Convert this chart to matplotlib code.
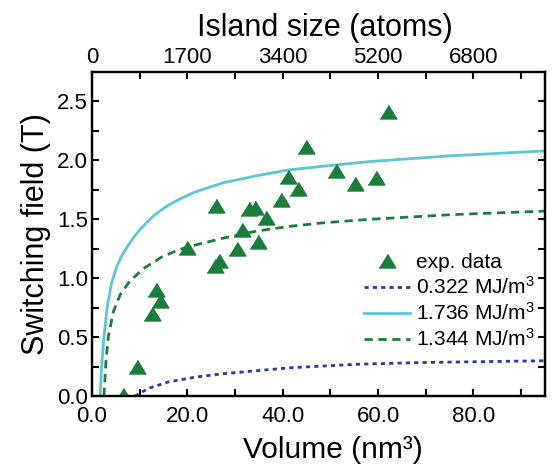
import matplotlib
matplotlib.use("Agg")
import matplotlib.pyplot as plt

plt.rcParams['font.family'] = ['Liberation Sans', 'DejaVu Sans']
plt.rcParams['mathtext.fontset'] = 'custom'
plt.rcParams['mathtext.rm'] = 'Liberation Sans'
plt.rcParams['mathtext.it'] = 'Liberation Sans:italic'
plt.rcParams['mathtext.bf'] = 'Liberation Sans:bold'

# experimental data
vol_exp = [62.0, 44.9, 51.2, 41.0, 59.6, 55.2, 43.3, 39.6, 26.0, 33.0, 34.1, 36.4,
           31.4, 34.8, 30.5, 19.9, 26.7, 25.8, 13.4, 14.3, 12.6, 9.4, 6.4]
field_exp = [2.41, 2.11, 1.91, 1.86, 1.85, 1.80, 1.76, 1.66, 1.61, 1.59, 1.60, 1.51,
             1.41, 1.31, 1.25, 1.26, 1.15, 1.10, 0.90, 0.81, 0.70, 0.25, 0.01]

# model curves
vol_k1 = [9.0, 11.8, 16.0, 21.5, 27.5, 41.4, 55.4, 69.3, 95.0]
field_k1 = [0.0, 0.065, 0.12, 0.16, 0.19, 0.24, 0.27, 0.285, 0.30]

vol_k2 = [1.7, 2.0, 2.5, 3.2, 4.1, 5.2, 6.2, 7.6, 8.8, 10.4, 13.2, 16.0, 18.8, 21.5,
          27.5, 34.5, 41.4, 48.4, 58.2, 75.6, 95.0]
field_k2 = [0.0, 0.25, 0.50, 0.76, 0.96, 1.10, 1.19, 1.28, 1.35, 1.43, 1.54, 1.62, 1.68,
            1.73, 1.81, 1.87, 1.92, 1.95, 1.99, 2.04, 2.08]

vol_k3 = [2.5, 2.9, 3.4, 4.5, 5.9, 8.0, 11.1, 14.6, 18.1, 20.5, 27.5, 34.5, 41.4, 48.4,
          58.2, 75.6, 95.0]
field_k3 = [0.0, 0.28, 0.50, 0.72, 0.86, 0.98, 1.09, 1.18, 1.24, 1.27, 1.34, 1.40, 1.44,
            1.47, 1.50, 1.54, 1.57]

x_ticks_major = [0, 20, 40, 60, 80]
x_tick_labels = ['0.0', '20.0', '40.0', '60.0', '80.0']
top_tick_labels = ['0', '1700', '3400', '5200', '6800']
y_ticks_major = [0.0, 0.5, 1.0, 1.5, 2.0, 2.5]
y_tick_labels = ['0.0', '0.5', '1.0', '1.5', '2.0', '2.5']

labels = ['exp. data', '0.322 MJ/m$^{3}$', '1.736 MJ/m$^{3}$', '1.344 MJ/m$^{3}$']

green = '#1b7d3a'
cyan = '#5cc6d3'
blue = '#2b3a9e'

fig = plt.figure(figsize=(5.55, 4.66), dpi=100)
ax = fig.add_axes([0.1658, 0.150, 0.8162, 0.6955])

tri = [(-1, -0.78), (1, -0.78), (0, 0.85)]
h_exp, = ax.plot(vol_exp, field_exp, linestyle='none', marker=tri, markersize=12,
                 color=green, zorder=5)
h1, = ax.plot(vol_k1, field_k1, color=blue, lw=2.0, linestyle=(0, (1.5, 1.5)))
h2, = ax.plot(vol_k2, field_k2, color=cyan, lw=2.0, linestyle='-')
h3, = ax.plot(vol_k3, field_k3, color=green, lw=2.0, linestyle=(0, (3, 2)))

ax.set_xlim(0, 95)
ax.set_ylim(0, 2.75)

ax.set_xticks(x_ticks_major)
ax.set_xticklabels(x_tick_labels)
ax.set_xticks([10, 30, 50, 70, 90], minor=True)
ax.set_yticks(y_ticks_major)
ax.set_yticklabels(y_tick_labels)
ax.set_yticks([0.25, 0.75, 1.25, 1.75, 2.25], minor=True)

for s in ax.spines.values():
    s.set_linewidth(1.6)

ax.tick_params(which='both', direction='in', length=5, width=1.5,
               top=False, right=True, labelsize=16)
ax.tick_params(axis='x', which='both', pad=7)
ax.tick_params(axis='y', which='both', pad=3)

ax2 = ax.twiny()
ax2.set_xlim(ax.get_xlim())
ax2.set_xticks(x_ticks_major)
ax2.set_xticklabels(top_tick_labels)
ax2.set_xticks([10, 30, 50, 70, 90], minor=True)
ax2.tick_params(which='both', direction='in', length=5, width=1.5, labelsize=16, pad=3)
for s in ax2.spines.values():
    s.set_linewidth(1.6)

ax.set_xlabel('Volume (nm³)', fontsize=21.5)
ax.xaxis.set_label_coords(0.532, -0.192, transform=ax.transAxes)
ax.xaxis.label.set_va('baseline')
ax.set_ylabel('Switching field (T)', fontsize=22, labelpad=4)
ax2.set_xlabel('Island size (atoms)', fontsize=22)
ax2.xaxis.set_label_coords(0.514, 1.111, transform=ax.transAxes)
ax2.xaxis.label.set_va('baseline')

leg = ax.legend([h_exp, h1, h2, h3], labels, loc='upper left',
                bbox_to_anchor=(364 / 555, 1 - 253 / 466), bbox_transform=fig.transFigure,
                frameon=False, fontsize=15, handlelength=2.2, handletextpad=0.3,
                labelspacing=0.2, borderpad=0, borderaxespad=0)

fig.savefig('out.png', dpi=100)
